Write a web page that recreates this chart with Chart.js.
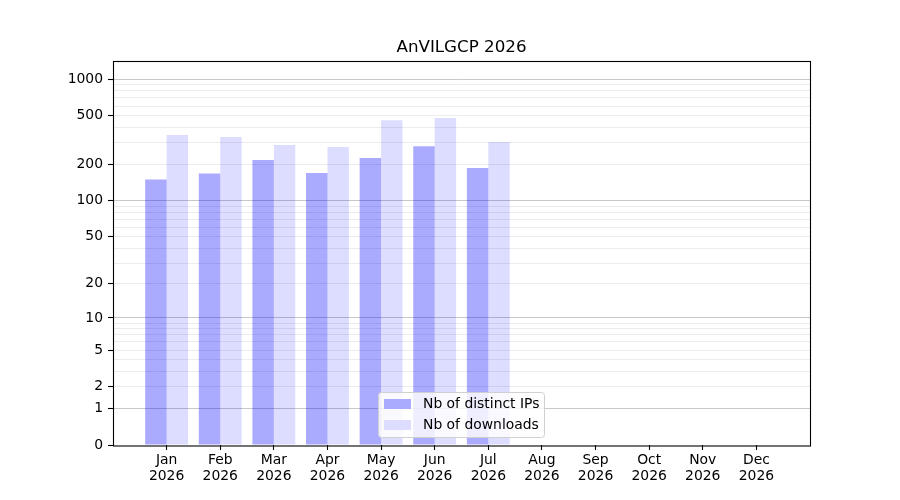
<!DOCTYPE html>
<html>
<head>
<meta charset="utf-8">
<script src="https://cdn.jsdelivr.net/npm/chart.js@4"></script>
<style>
  html, body { margin: 0; padding: 0; background: #fff; }
  #wrap { width: 900px; height: 500px; }
</style>
</head>
<body>
<div id="wrap"><canvas id="usageChart" width="900" height="500"></canvas></div>
<script>
// data
const months = ["Jan", "Feb", "Mar", "Apr", "May", "Jun", "Jul", "Aug", "Sep", "Oct", "Nov", "Dec"];
const year = "2026";
const distinctIPs = [149, 167, 216, 169, 224, 281, 186, 0, 0, 0, 0, 0];
const downloads = [347, 334, 287, 276, 460, 478, 304, 0, 0, 0, 0, 0];

// y axis ticks
const yLabelled = [0, 1, 2, 5, 10, 20, 50, 100, 200, 500, 1000];
const yMajor = [1, 10, 100, 1000];
const yMinor = [3, 4, 6, 7, 8, 9, 30, 40, 60, 70, 80, 90, 300, 400, 600, 700, 800, 900];
const yMax = 1420;

const titleText = "AnVILGCP 2026";
const ipColor = "rgba(0, 0, 255, 0.333)";
const dlColor = "rgba(0, 0, 255, 0.133)";

Chart.defaults.font.family = "'DejaVu Sans', sans-serif";
Chart.defaults.color = "#000";

// scale that maps v -> log10(1 + v)
class Log1pScale extends Chart.LinearScale {
    static id = "log1p";
    static defaults = {};
    buildTicks() {
        const all = yLabelled.concat(yMinor).sort((a, b) => a - b);
        return all.filter(v => v >= this.min && v <= this.max).map(v => ({ value: v }));
    }
    configure() {
        super.configure();
        this._lmin = Math.log10(1 + this.min);
        this._lmax = Math.log10(1 + this.max);
    }
    getPixelForValue(value) {
        return this.getPixelForDecimal((Math.log10(1 + value) - this._lmin) / (this._lmax - this._lmin));
    }
    getValueForPixel(pixel) {
        return Math.pow(10, this._lmin + this.getDecimalForPixel(pixel) * (this._lmax - this._lmin)) - 1;
    }
}
Chart.register(Log1pScale);

// black frame round the plot, title centred over it
const frame = {
    id: "frame",
    afterDatasetsDraw(chart) {
        const a = chart.chartArea;
        const ctx = chart.ctx;
        ctx.save();
        ctx.strokeStyle = "#000";
        ctx.lineWidth = 1.1;
        ctx.strokeRect(Math.round(a.left) + 0.5, Math.round(a.top) + 0.5,
            Math.round(a.right - a.left), Math.round(a.bottom - a.top) - 0.5);
        ctx.font = "16.7px 'DejaVu Sans'";
        ctx.fillStyle = "#000";
        ctx.textAlign = "center";
        ctx.textBaseline = "alphabetic";
        ctx.fillText(titleText, (a.left + a.right) / 2, a.top - 9);
        ctx.restore();
    }
};

// legend box inside the plot, like matplotlib
const boxLegend = {
    id: "boxLegend",
    afterDraw(chart) {
        const ctx = chart.ctx;
        const x = 378.5, y = 392.5, w = 166, h = 45;
        ctx.save();
        ctx.beginPath();
        ctx.roundRect(x, y, w, h, 3);
        ctx.fillStyle = "rgba(255, 255, 255, 0.8)";
        ctx.fill();
        ctx.strokeStyle = "#d0d0d0";
        ctx.lineWidth = 1;
        ctx.stroke();
        ctx.font = "13.9px 'DejaVu Sans'";
        ctx.textBaseline = "middle";
        chart.data.datasets.forEach((ds, i) => {
            const ry = 399 + i * 21;
            ctx.fillStyle = "#fff";
            ctx.fillRect(384, ry, 27, 10);
            ctx.fillStyle = ds.backgroundColor;
            ctx.fillRect(384, ry, 27, 10);
            ctx.fillStyle = "#000";
            ctx.fillText(ds.label, 423, ry + 5);
        });
        ctx.restore();
    }
};

new Chart(document.getElementById("usageChart"), {
    type: "bar",
    data: {
        datasets: [
            {
                label: "Nb of distinct IPs",
                data: distinctIPs.map((v, i) => ({ x: i + 1, y: v })),
                backgroundColor: ipColor,
                categoryPercentage: 0.8,
                barPercentage: 1.0
            },
            {
                label: "Nb of downloads",
                data: downloads.map((v, i) => ({ x: i + 1, y: v })),
                backgroundColor: dlColor,
                categoryPercentage: 0.8,
                barPercentage: 1.0
            }
        ]
    },
    options: {
        responsive: false,
        animation: false,
        layout: { padding: { left: 0, right: 90, top: 60.5, bottom: 0 } },
        plugins: {
            legend: { display: false },
            tooltip: { enabled: false },
            title: { display: false }
        },
        scales: {
            x: {
                type: "linear",
                min: 0,
                max: 13,
                offset: false,
                afterBuildTicks: s => { s.ticks = months.map((m, i) => ({ value: i + 1 })); },
                afterFit: s => { s.height = 55; },
                border: { display: false },
                grid: { offset: false, drawOnChartArea: false, drawTicks: true, tickLength: 5, tickColor: "#000", tickWidth: 1.1 },
                ticks: {
                    autoSkip: false,
                    maxRotation: 0,
                    padding: 3,
                    color: "#000",
                    font: { size: 13.9, lineHeight: 1.1 },
                    callback: v => [months[v - 1], year]
                }
            },
            y: {
                type: "log1p",
                min: 0,
                max: yMax,
                afterFit: s => { s.width = 113; },
                border: { display: false },
                grid: {
                    drawTicks: true,
                    tickLength: 5,
                    lineWidth: 1,
                    color: c => (c.tick && yMajor.includes(c.tick.value)) ? "#c8c8c8" : (c.tick && c.tick.value === 0 ? "rgba(0,0,0,0)" : "#ececec"),
                    tickColor: c => (c.tick && yLabelled.includes(c.tick.value)) ? "#000" : "rgba(0,0,0,0)",
                    tickWidth: 1.1
                },
                ticks: {
                    autoSkip: false,
                    padding: 5,
                    color: "#000",
                    font: { size: 13.9 },
                    callback: v => yLabelled.includes(v) ? String(v) : ""
                }
            }
        }
    },
    plugins: [frame, boxLegend]
});
</script>
</body>
</html>
